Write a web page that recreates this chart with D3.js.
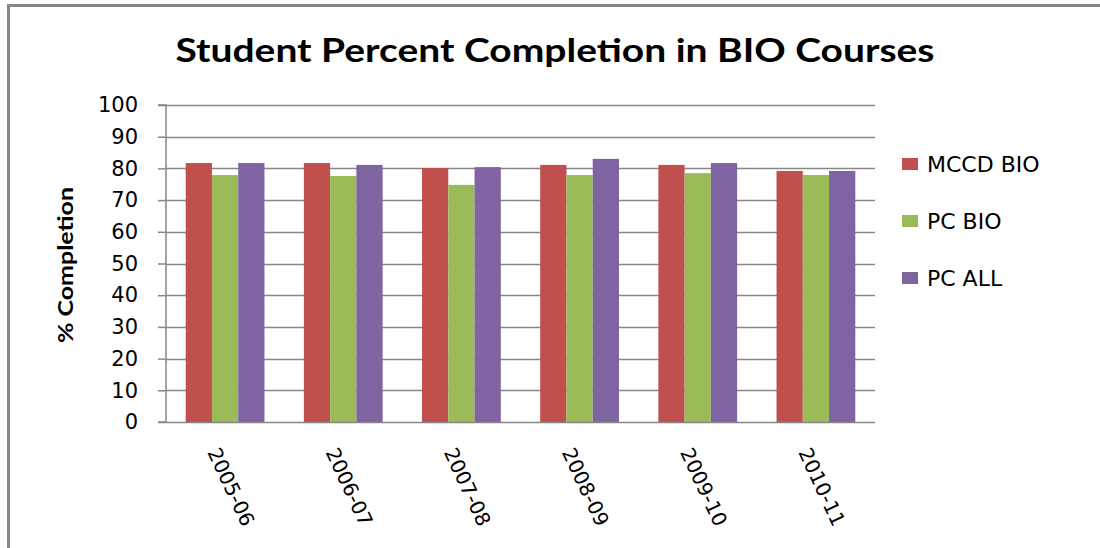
<!DOCTYPE html>
<html>
<head>
<meta charset="utf-8">
<script src="https://cdn.jsdelivr.net/npm/d3@7"></script>
<style>
  body { margin: 0; background: #fff; }
  svg { display: block; }
  .tick text { font-family: "DejaVu Sans", sans-serif; fill: #000; }
</style>
</head>
<body>
<svg id="chart"></svg>
<script>
// data
const years = ["2005-06", "2006-07", "2007-08", "2008-09", "2009-10", "2010-11"];
const seriesNames = ["MCCD BIO", "PC BIO", "PC ALL"];
const mccdBio = [81.7, 81.7, 80.1, 81.1, 81.1, 79.2];
const pcBio = [77.9, 77.6, 74.8, 77.9, 78.5, 77.9];
const pcAll = [81.7, 81.1, 80.4, 83.0, 81.7, 79.2];
const yTicks = [0, 10, 20, 30, 40, 50, 60, 70, 80, 90, 100];
const colors = ["#C0504D", "#9BBB59", "#8064A2"];

const width = 1100;
const height = 548;
const margin = { top: 105, right: 225, bottom: 126, left: 166 };

const svg = d3.select('#chart')
  .attr('width', width)
  .attr('height', height);

svg.append('rect').attr('width', width).attr('height', height).attr('fill', '#fff');

// chart border (only top and left visible in the crop)
svg.append('path')
  .attr('d', 'M8.5,' + height + 'V5.5H' + width)
  .attr('fill', 'none')
  .attr('stroke', '#868686')
  .attr('stroke-width', 3);

const x = d3.scaleBand()
  .domain(years)
  .range([margin.left, width - margin.right]);

const xInner = d3.scaleBand()
  .domain(seriesNames)
  .range([0, x.bandwidth()])
  .paddingOuter(0.75);

const y = d3.scaleLinear()
  .domain([0, 100])
  .range([height - margin.bottom, margin.top]);

// gridlines
svg.append('g')
  .selectAll('line')
  .data(yTicks.filter(d => d > 0))
  .enter()
  .append('line')
  .attr('x1', margin.left)
  .attr('x2', width - margin.right)
  .attr('y1', d => Math.round(y(d)) + 0.5)
  .attr('y2', d => Math.round(y(d)) + 0.5)
  .attr('stroke', '#878787')
  .attr('stroke-width', 1.5);

// bars
const rows = years.map((yr, i) => ({ year: yr, values: [mccdBio[i], pcBio[i], pcAll[i]] }));
const groups = svg.append('g')
  .selectAll('g')
  .data(rows)
  .enter()
  .append('g')
  .attr('transform', d => 'translate(' + x(d.year) + ',0)');

groups.selectAll('rect')
  .data(d => d.values.map((v, j) => ({ name: seriesNames[j], value: v, color: colors[j] })))
  .enter()
  .append('rect')
  .attr('x', d => xInner(d.name))
  .attr('width', xInner.bandwidth())
  .attr('y', d => y(d.value))
  .attr('height', d => y(0) - y(d.value))
  .attr('fill', d => d.color);

// y axis
const yAxis = svg.append('g')
  .attr('transform', 'translate(' + margin.left + ',0)')
  .call(d3.axisLeft(y).tickValues(yTicks).tickSize(8).tickPadding(20));
yAxis.selectAll('line, path').attr('stroke', '#878787').attr('stroke-width', 1.5);
yAxis.select('.domain').attr('d', 'M-8,' + y(100) + 'H0V' + y(0) + 'H-8');
yAxis.selectAll('text').attr('font-size', 21);

// x axis line
svg.append('line')
  .attr('x1', margin.left)
  .attr('x2', width - margin.right)
  .attr('y1', y(0) + 0.5)
  .attr('y2', y(0) + 0.5)
  .attr('stroke', '#878787')
  .attr('stroke-width', 1.5);

// x labels, rotated
svg.append('g')
  .selectAll('text')
  .data(years)
  .enter()
  .append('text')
  .attr('transform', d => 'translate(' + (x(d) + x.bandwidth() / 2 - 18) + ',' + (y(0) + 30) + ') rotate(65)')
  .attr('font-family', 'DejaVu Sans, sans-serif')
  .attr('font-size', 20)
  .text(d => d);

// title
svg.append('text')
  .attr('x', 555)
  .attr('y', 62)
  .attr('text-anchor', 'middle')
  .attr('font-family', 'Lato, sans-serif')
  .attr('font-weight', 'bold')
  .attr('font-size', 33)
  .attr('textLength', 759)
  .attr('lengthAdjust', 'spacingAndGlyphs')
  .text('Student Percent Completion in BIO Courses');

// y axis title
svg.append('text')
  .attr('transform', 'translate(73,265) rotate(-90)')
  .attr('text-anchor', 'middle')
  .attr('font-family', 'Lato, sans-serif')
  .attr('font-weight', 'bold')
  .attr('font-size', 21)
  .attr('textLength', 156)
  .attr('lengthAdjust', 'spacingAndGlyphs')
  .text('% Completion');

// legend
const legend = svg.append('g')
  .selectAll('g')
  .data(seriesNames)
  .enter()
  .append('g')
  .attr('transform', (d, i) => 'translate(902,' + (164 + i * 57) + ')');

legend.append('rect')
  .attr('x', 0)
  .attr('y', -6)
  .attr('width', 16)
  .attr('height', 12)
  .attr('fill', (d, i) => colors[i]);

legend.append('text')
  .attr('x', 25)
  .attr('y', 8)
  .attr('font-family', 'DejaVu Sans, sans-serif')
  .attr('font-size', 22)
  .text(d => d);
</script>
</body>
</html>
